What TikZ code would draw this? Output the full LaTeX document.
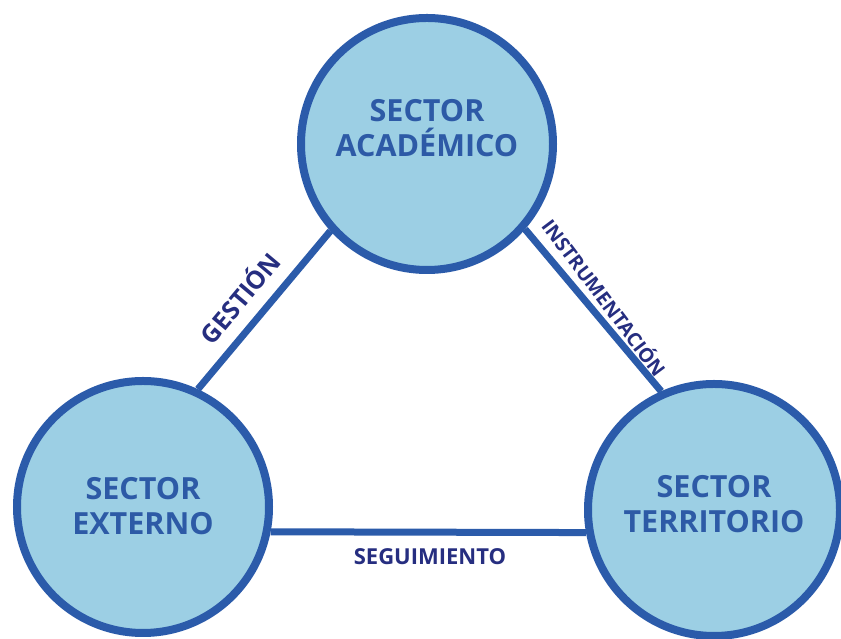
\documentclass[tikz,border=0pt]{standalone}
\usepackage{fontspec}
\setmainfont{Open Sans}
\usepackage{xcolor}

\definecolor{ringblue}{HTML}{2B5BAA}
\definecolor{fillblue}{HTML}{9CCFE4}
\definecolor{textblue}{HTML}{2D5AA6}
\definecolor{navy}{HTML}{262E80}

\begin{document}
\begin{tikzpicture}[x=1pt, y=1pt,
    sector/.style={circle, draw=ringblue, fill=fillblue, line width=8pt, minimum size=252pt, inner sep=0pt},
    sectortext/.style={align=center, text=textblue, inner sep=0pt, font=\fontsize{30.5}{35}\selectfont\bfseries},
    link/.style={draw=ringblue, line width=7pt},
    tag/.style={text=navy, inner sep=0pt, font=\fontsize{22}{24}\selectfont\bfseries}]
    \useasboundingbox (0,0) rectangle (841,639);
    \node[sector] (acad) at (427,495) {};
      \node[sectortext] (acadtext) at ([yshift=16pt]acad.center) {SECTOR\\ACADÉMICO};

    \node[sector] (ext) at (143,132) {};
      \node[sectortext] (exttext) at ([yshift=1pt]ext.center) {SECTOR\\EXTERNO};
        \draw[link] (ext.65) -- (acad.222);

    \node[sector] (terr) at (714,129) {};
      \node[sectortext] (terrtext) at ([yshift=6pt]terr.center) {SECTOR\\TERRITORIO};
        \draw[link] (acad.-41) -- (terr.114);
        \draw[link] (ext.-11) -- (terr.190);

    \node[tag, rotate=50, font=\fontsize{25}{27}\selectfont\bfseries] (gestion) at (239,342) {GESTIÓN};
    \node[tag, rotate=-53, font=\fontsize{19.5}{21}\selectfont\bfseries] (instr) at (605,342) {INSTRUMENTACIÓN};
    \node[tag] (seguim) at (430,82) {SEGUIMIENTO};
\end{tikzpicture}
\end{document}
